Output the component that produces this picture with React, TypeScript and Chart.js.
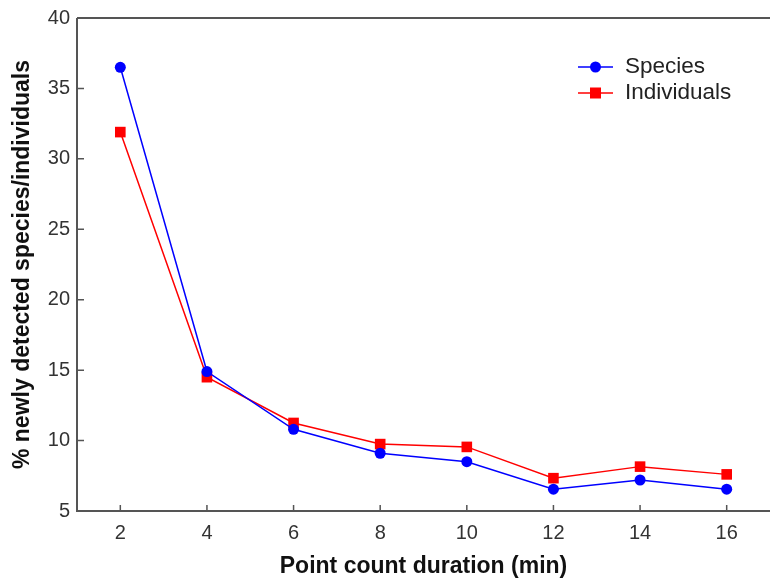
import React, { useEffect, useRef } from "react";
import { Chart, registerables } from "chart.js";

Chart.register(...registerables);

const xTicks = [2, 4, 6, 8, 10, 12, 14, 16];
const yTicks = [5, 10, 15, 20, 25, 30, 35, 40];
const durations = [2, 4, 6, 8, 10, 12, 14, 16];
const species = [36.5, 14.9, 10.8, 9.1, 8.5, 6.55, 7.2, 6.55];
const individuals = [31.9, 14.5, 11.25, 9.75, 9.55, 7.33, 8.15, 7.6];
const seriesNames = ["Species", "Individuals"];

const FONT = "'Liberation Sans', Arial, sans-serif";
const AXIS = "#555555";

const framePlugin = {
  id: "frame",
  afterDraw(chart: any) {
    const { ctx, chartArea, scales } = chart;
    const { left, right, top, bottom } = chartArea;
    ctx.save();
    ctx.strokeStyle = AXIS;
    ctx.lineWidth = 2;
    ctx.beginPath();
    ctx.moveTo(left, top);
    ctx.lineTo(right, top);
    ctx.moveTo(left, top);
    ctx.lineTo(left, bottom);
    ctx.lineTo(right, bottom);
    ctx.stroke();
    ctx.lineWidth = 1.5;
    ctx.beginPath();
    for (const v of yTicks) {
      const y = scales.y.getPixelForValue(v);
      ctx.moveTo(left, y);
      ctx.lineTo(left + 7, y);
    }
    for (const v of xTicks) {
      const x = scales.x.getPixelForValue(v);
      ctx.moveTo(x, bottom);
      ctx.lineTo(x, bottom - 6);
    }
    ctx.stroke();

    // legend
    const items = chart.data.datasets;
    const lx0 = 578, lx1 = 613, tx = 625;
    const ys = [67, 93];
    items.forEach((ds: any, i: number) => {
      const y = ys[i];
      ctx.strokeStyle = ds.borderColor;
      ctx.lineWidth = 1.5;
      ctx.beginPath();
      ctx.moveTo(lx0, y);
      ctx.lineTo(lx1, y);
      ctx.stroke();
      ctx.fillStyle = ds.backgroundColor;
      const cx = (lx0 + lx1) / 2;
      if (ds.pointStyle === "rect") {
        ctx.fillRect(cx - 5.5, y - 5.5, 11, 11);
      } else {
        ctx.beginPath();
        ctx.arc(cx, y, 5.5, 0, Math.PI * 2);
        ctx.fill();
      }
      ctx.fillStyle = "#222222";
      ctx.font = `22.5px ${FONT}`;
      ctx.textBaseline = "middle";
      ctx.textAlign = "left";
      ctx.fillText(ds.label, tx, y);
    });
    ctx.restore();
  },
};

export default function App() {
  const ref = useRef<HTMLCanvasElement>(null);
  useEffect(() => {
    if (!ref.current) return;
    const chart = new Chart(ref.current, {
      type: "line",
      data: {
        datasets: [
          {
            label: seriesNames[0],
            data: durations.map((x, i) => ({ x, y: species[i] })),
            borderColor: "#0000ff",
            backgroundColor: "#0000ff",
            borderWidth: 1.5,
            pointStyle: "circle",
            pointRadius: 5.5,
            pointBorderWidth: 0,
          },
          {
            label: seriesNames[1],
            data: durations.map((x, i) => ({ x, y: individuals[i] })),
            borderColor: "#ff0000",
            backgroundColor: "#ff0000",
            borderWidth: 1.5,
            pointStyle: "rect",
            pointRadius: 7.5,
            pointBorderWidth: 0,
          },
        ],
      },
      options: {
        animation: false,
        responsive: false,
        maintainAspectRatio: false,
        layout: { autoPadding: false, padding: { top: 18, right: 0, left: 0, bottom: 0 } },
        plugins: { legend: { display: false }, tooltip: { enabled: false } },
        scales: {
          x: {
            type: "linear",
            min: 1,
            max: 17,
            afterBuildTicks: (s: any) => {
              s.ticks = xTicks.map((v) => ({ value: v }));
            },
            afterFit: (s: any) => {
              s.height = 69;
              s.paddingLeft = 0;
              s.paddingRight = 0;
            },
            grid: { display: false, drawTicks: false },
            border: { display: false },
            ticks: {
              padding: 10,
              color: "#333333",
              font: { family: FONT, size: 20 },
            },
            title: {
              display: true,
              text: "Point count duration (min)",
              color: "#111111",
              font: { family: FONT, size: 23, weight: "bold" },
              padding: { top: 0, bottom: 0 },
            },
          },
          y: {
            type: "linear",
            min: 5,
            max: 40,
            afterBuildTicks: (s: any) => {
              s.ticks = yTicks.map((v) => ({ value: v }));
            },
            afterFit: (s: any) => {
              s.width = 77;
              s.paddingTop = 0;
              s.paddingBottom = 0;
            },
            grid: { display: false, drawTicks: false },
            border: { display: false },
            ticks: {
              padding: 7,
              color: "#333333",
              font: { family: FONT, size: 20 },
            },
            title: {
              display: true,
              text: "% newly detected species/individuals",
              color: "#111111",
              font: { family: FONT, size: 23, weight: "bold" },
              padding: { top: 9, bottom: 0 },
            },
          },
        },
      },
      plugins: [framePlugin],
    });
    return () => chart.destroy();
  }, []);
  return (
    <div style={{ position: "fixed", left: 0, top: 0, width: 770, height: 580, background: "#fff" }}>
      <canvas ref={ref} width={770} height={580} style={{ display: "block" }} />
    </div>
  );
}
